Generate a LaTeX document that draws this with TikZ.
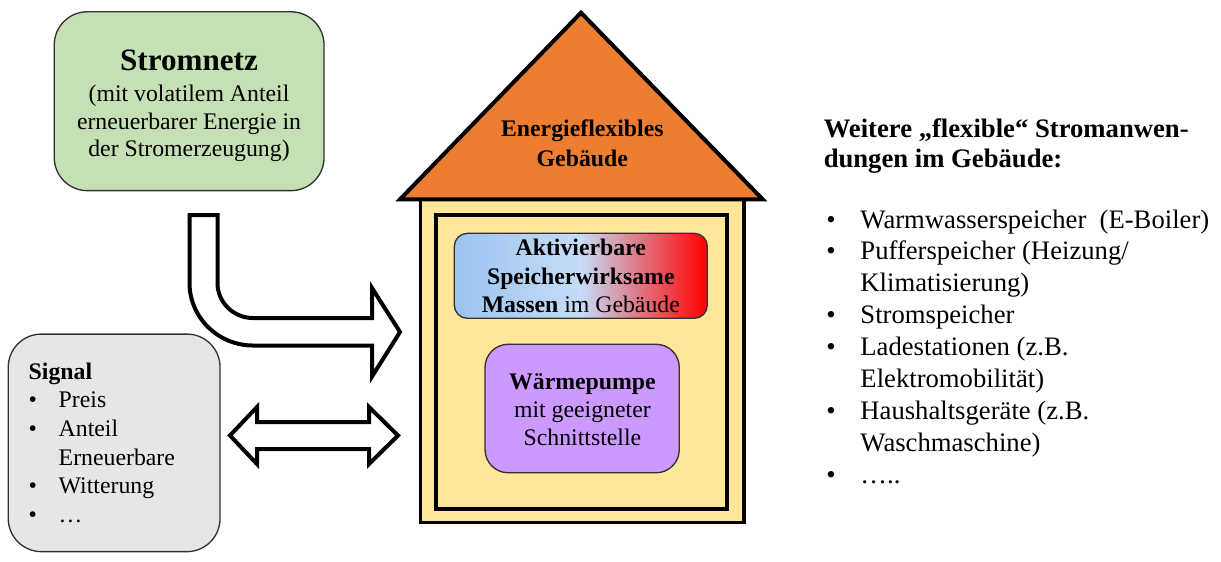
\documentclass[tikz,border=0pt]{standalone}
\usepackage{fontspec}
\setmainfont{Liberation Serif}
\definecolor{gridgreen}{RGB}{197,224,180}
\definecolor{boxborder}{RGB}{50,50,50}
\definecolor{signalgray}{RGB}{231,230,230}
\definecolor{rooforange}{RGB}{237,125,49}
\definecolor{wallyellow}{RGB}{255,230,153}
\definecolor{hpviolet}{RGB}{204,153,255}
\definecolor{coolblue}{RGB}{155,195,240}
\definecolor{paleblue}{RGB}{198,220,247}
\definecolor{hotred}{RGB}{255,0,0}
\newcommand\mylines[2][c]{\begin{tabular}[t]{@{}#1@{}}#2\end{tabular}}
\newcommand\bul[1]{\makebox[#1][l]{\textbullet}}
\newcommand\fsinner{\fontsize{10.7}{12.75}\selectfont}
\tikzset{
  softbox/.style={draw=boxborder, line width=0.6pt, rectangle, inner sep=0pt},
  blockarrow/.style={draw=black, line width=1.8pt, fill=white, line join=miter},
  txt/.style={inner sep=0pt, anchor=base}
}
\begin{document}
\begin{tikzpicture}[x=0.45pt,y=-0.45pt]
\useasboundingbox (0,0) rectangle (1221,561);

% Stromnetz
\node[softbox, fill=gridgreen, rounded corners=14.9pt, minimum width=121.4pt, minimum height=80.5pt] (netz) at (189.15,101.2) {};
\node[txt, font=\fontsize{14}{16}\selectfont\bfseries] (netztitle) at (189,70) {Stromnetz};
\node[txt, font=\fontsize{10.7}{12.4}\selectfont] (netztext) at (189,101.7)
  {\mylines{(mit volatilem Anteil\\erneuerbarer Energie in\\der Stromerzeugung)}};

% Signal
\node[softbox, fill=signalgray, rounded corners=14.9pt, minimum width=95.3pt, minimum height=97.9pt] (signal) at (114.15,442.85) {};
\node[txt, anchor=base west, font=\fontsize{10.7}{12.9}\selectfont] (signaltext) at (28.3,379.3)
  {\mylines[l]{\textbf{Signal}\\\bul{13.5pt}Preis\\\bul{13.5pt}Anteil\\\hspace*{13.5pt}Erneuerbare\\\bul{13.5pt}Witterung\\\bul{13.5pt}…}};

% House body
\node[rectangle, draw=black, line width=1.5pt, fill=wallyellow, minimum width=145.6pt, minimum height=145.6pt, inner sep=0pt] (body) at (582.25,360.7) {};
% Roof
\coordinate (apex) at (581,12.7);
\coordinate (eaveL) at (400,199.3);
\coordinate (eaveR) at (762.7,199.3);
\draw[line width=1.8pt, fill=rooforange, line join=miter] (eaveL) -- (apex) -- (eaveR) -- cycle;
\node[txt, font=\fontsize{10.7}{13.2}\selectfont\bfseries] (rooftext) at (582.3,136.7)
  {\mylines{Energieflexibles\\Gebäude}};
% Inner frame
\node[rectangle, draw=black, line width=1.8pt, fill=wallyellow, minimum width=130.8pt, minimum height=132pt, inner sep=0pt] (frame) at (581.65,362) {};

% Aktivierbare Massen
\node[softbox, rounded corners=5.9pt, left color=coolblue, right color=hotred, middle color=paleblue, minimum width=113.85pt, minimum height=38.25pt] (mass) at (580.8,275.8) {};
\node[txt, font=\fsinner] (masstext) at (580.8,255.7)
  {\mylines{\textbf{Aktivierbare}\\\textbf{Speicherwirksame}\\\textbf{Massen} im Gebäude}};

% Waermepumpe
\node[softbox, fill=hpviolet, rounded corners=10.4pt, minimum width=87.4pt, minimum height=57.8pt] (hp) at (582.15,408.5) {};
\node[txt, font=\fsinner] (hptext) at (582.4,389)
  {\mylines{\textbf{Wärmepumpe}\\mit geeigneter\\Schnittstelle}};

% Curved block arrow (Stromnetz -> Gebaeude)
\draw[blockarrow] (189.5,215) -- (217.5,215) -- (217.5,283)
  .. controls (217.5,302.4) and (233.4,318) .. (253,318)
  -- (372,318) -- (372,288) -- (400,332) -- (372,376.5) -- (372,345.5) -- (253,345.5)
  .. controls (217.9,345.5) and (189.5,317.2) .. (189.5,283) -- cycle;

% Double block arrow (Signal <-> Gebaeude)
\draw[blockarrow] (230,435.5) -- (257,407) -- (257,422) -- (369,422) -- (369,407)
  -- (398,435.5) -- (369,464) -- (369,449) -- (257,449) -- (257,464) -- cycle;

% Right text
\node[txt, anchor=base west, font=\fontsize{12}{13.5}\selectfont\bfseries] (headline) at (823.3,137)
  {\mylines[l]{Weitere „flexible“ Stromanwen-\\dungen im Gebäude:}};
\node[txt, anchor=base west, font=\fontsize{12}{14.35}\selectfont] (applist) at (826,228)
  {\mylines[l]{\bul{15.3pt}Warmwasserspeicher\ \ (E-Boiler)\\
  \bul{15.3pt}Pufferspeicher (Heizung/\\
  \hspace*{15.3pt}Klimatisierung)\\
  \bul{15.3pt}Stromspeicher\\
  \bul{15.3pt}Ladestationen (z.B.\\
  \hspace*{15.3pt}Elektromobilität)\\
  \bul{15.3pt}Haushaltsgeräte (z.B.\\
  \hspace*{15.3pt}Waschmaschine)\\
  \bul{15.3pt}…..}};
\end{tikzpicture}
\end{document}
